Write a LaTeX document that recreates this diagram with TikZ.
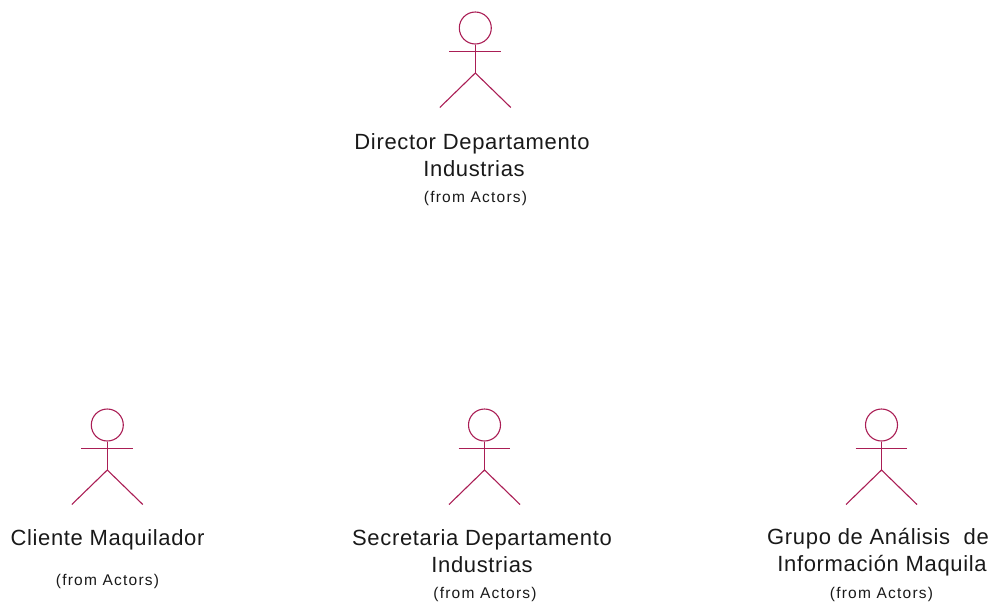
\documentclass[tikz,border=0pt]{standalone}
\usepackage{fontspec}
\setmainfont{Liberation Sans}
\newfontfamily\titlefont[LetterSpace=3]{Liberation Sans}
\newfontfamily\originfont[LetterSpace=8]{Liberation Sans}
\definecolor{actorcol}{RGB}{170,30,85}
\tikzset{
  limb/.style={draw=actorcol,line width=1.1pt},
  headshape/.style={circle,draw=actorcol,line width=1.1pt,minimum size=32pt,inner sep=0pt},
  title/.style={align=center,text=black!90,font=\titlefont\fontsize{22}{27}\selectfont,inner sep=0pt},
  origin/.style={text=black!90,font=\originfont\fontsize{15.5}{18}\selectfont,inner sep=0pt}
}
\newcommand{\actorfig}[3]{%
  \node[headshape] (#1head) at (#2,#3) {};
  \coordinate (#1armL) at (#2-26,#3+23.5);
  \coordinate (#1armR) at (#2+25.5,#3+23.5);
  \coordinate (#1hip) at (#2,#3+45);
  \coordinate (#1footL) at (#2-35.5,#3+79.5);
  \coordinate (#1footR) at (#2+35.5,#3+79.5);
  \draw[limb] (#1head.south) -- (#1hip);
  \draw[limb] (#1armL) -- (#1armR);
  \draw[limb] (#1footL) -- (#1hip) -- (#1footR);
}
\begin{document}
\begin{tikzpicture}[x=1pt,y=-1pt]
\useasboundingbox (0,0) rectangle (993,603);
\actorfig{dir}{475.3}{28}
\actorfig{cli}{107.3}{425}
\actorfig{sec}{484.5}{425}
\actorfig{gru}{881.5}{425}
\node[title] (dirt) at (472,155) {Director Departamento\\\hspace*{4pt}Industrias};
\node[origin] (diro) at (475.5,198) {(from Actors)};
\node[title] (clit) at (107.5,539.5) {Cliente Maquilador};
\node[origin] (clio) at (107.5,581) {(from Actors)};
\node[title] (sect) at (482,551) {Secretaria Departamento\\Industrias};
\node[origin] (seco) at (485,594.5) {(from Actors)};
\node[title] (grut) at (878,552) {Grupo de Análisis\ \ de\\\hspace*{8pt}Información Maquila};
\node[origin] (gruo) at (881.5,594.5) {(from Actors)};
\end{tikzpicture}
\end{document}
